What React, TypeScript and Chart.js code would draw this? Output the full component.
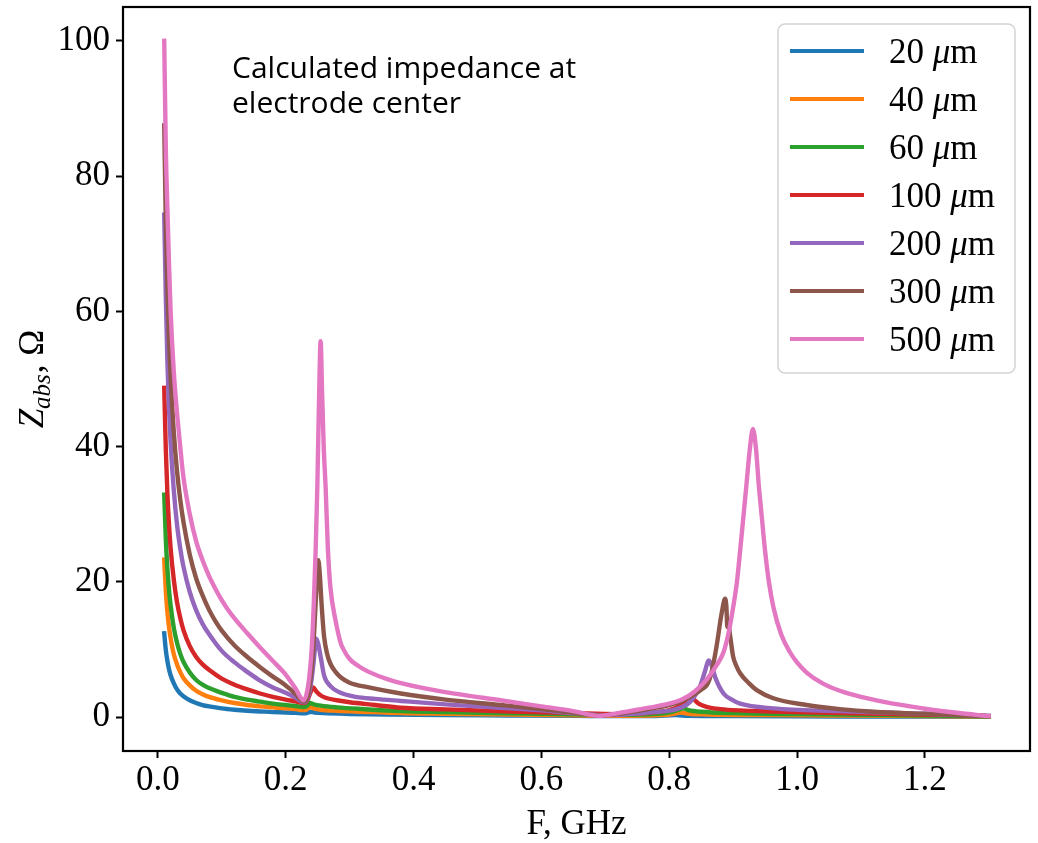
import React, { useEffect, useRef } from 'react';
import { Chart, registerables } from 'chart.js';

Chart.register(...registerables);

// Axis ticks
const xTicks = [0, 0.2, 0.4, 0.6, 0.8, 1.0, 1.2];
const yTicks = [0, 20, 40, 60, 80, 100];

// Legend labels (electrode sizes)
const sizeLabels = ['20', '40', '60', '100', '200', '300', '500'];
const seriesColors = ['#1f77b4', '#ff7f0e', '#2ca02c', '#d62728', '#9467bd', '#8c564b', '#e377c2'];

// [F (GHz), Zabs (Ohm)] pairs
const z20: [number, number][] = [
  [0.01, 12.4], [0.0125, 9.9], [0.015, 8.3], [0.0175, 7.1], [0.02, 6.2], [0.025, 5.0], [0.03, 4.1],
  [0.035, 3.5], [0.04, 3.1], [0.05, 2.5], [0.06, 2.1], [0.07, 1.8], [0.08, 1.6], [0.1, 1.3],
  [0.12, 1.1], [0.14, 0.95], [0.16, 0.85], [0.18, 0.75], [0.2, 0.7], [0.215, 0.65], [0.228, 0.58],
  [0.234, 0.65], [0.238, 0.8], [0.245, 0.7], [0.26, 0.6], [0.3, 0.48], [0.36, 0.38], [0.45, 0.3],
  [0.55, 0.25], [0.65, 0.2], [0.72, 0.15], [0.78, 0.18], [0.81, 0.3], [0.83, 0.2], [0.9, 0.15],
  [1.0, 0.12], [1.1, 0.1], [1.2, 0.08], [1.3, 0.05],
];

const z40: [number, number][] = [
  [0.01, 23.3], [0.0125, 18.6], [0.015, 15.5], [0.0175, 13.3], [0.02, 11.7], [0.025, 9.3], [0.03, 7.8],
  [0.035, 6.7], [0.04, 5.8], [0.05, 4.7], [0.06, 3.9], [0.07, 3.4], [0.08, 3.0], [0.1, 2.5],
  [0.12, 2.1], [0.14, 1.8], [0.16, 1.6], [0.18, 1.45], [0.2, 1.3], [0.215, 1.2], [0.228, 1.05],
  [0.233, 1.15], [0.238, 1.5], [0.244, 1.3], [0.255, 1.1], [0.28, 0.95], [0.32, 0.8], [0.38, 0.6],
  [0.45, 0.5], [0.55, 0.38], [0.65, 0.28], [0.72, 0.22], [0.78, 0.28], [0.805, 0.45], [0.817, 0.7],
  [0.83, 0.5], [0.86, 0.4], [0.95, 0.3], [1.05, 0.25], [1.15, 0.2], [1.3, 0.1],
];

const z60: [number, number][] = [
  [0.01, 32.9], [0.0125, 26.3], [0.015, 21.9], [0.0175, 18.8], [0.02, 16.5], [0.025, 13.2], [0.03, 11.0],
  [0.035, 9.4], [0.04, 8.2], [0.05, 6.6], [0.06, 5.5], [0.07, 4.8], [0.08, 4.3], [0.1, 3.6],
  [0.12, 3.0], [0.14, 2.6], [0.16, 2.3], [0.18, 2.0], [0.2, 1.8], [0.215, 1.65], [0.228, 1.5],
  [0.233, 1.65], [0.238, 2.1], [0.244, 1.9], [0.255, 1.7], [0.28, 1.45], [0.32, 1.2], [0.38, 0.9],
  [0.45, 0.75], [0.55, 0.58], [0.65, 0.42], [0.72, 0.35], [0.78, 0.5], [0.805, 0.8], [0.815, 1.1],
  [0.822, 1.3], [0.83, 1.05], [0.85, 0.8], [0.9, 0.6], [1.0, 0.45], [1.1, 0.35], [1.2, 0.25], [1.3, 0.1],
];

const z100: [number, number][] = [
  [0.01, 48.7], [0.0125, 39.5], [0.015, 33.0], [0.0175, 28.5], [0.02, 25.0], [0.025, 20.3], [0.03, 17.0],
  [0.035, 14.7], [0.04, 12.9], [0.05, 10.5], [0.06, 8.9], [0.07, 7.8], [0.08, 7.0], [0.1, 5.7],
  [0.12, 4.8], [0.14, 4.1], [0.16, 3.5], [0.18, 3.0], [0.2, 2.6], [0.215, 2.35], [0.228, 2.1],
  [0.234, 2.5], [0.239, 3.7], [0.243, 4.4], [0.248, 3.8], [0.255, 3.2], [0.265, 2.8], [0.28, 2.5],
  [0.3, 2.2], [0.34, 1.8], [0.38, 1.4], [0.45, 1.15], [0.55, 0.85], [0.65, 0.6], [0.72, 0.45],
  [0.77, 0.65], [0.8, 1.05], [0.815, 1.6], [0.825, 2.4], [0.833, 3.0], [0.839, 2.6], [0.846, 2.0],
  [0.86, 1.5], [0.88, 1.2], [0.91, 1.0], [0.96, 0.85], [1.067, 0.6], [1.15, 0.45], [1.25, 0.3], [1.3, 0.15],
];

const z200: [number, number][] = [
  [0.01, 74.3], [0.0125, 62], [0.015, 52.5], [0.0175, 45.5], [0.02, 40.5], [0.025, 33.5], [0.03, 28.5],
  [0.035, 25], [0.04, 22.3], [0.05, 18.5], [0.06, 15.8], [0.07, 13.8], [0.08, 12.3], [0.1, 9.8],
  [0.12, 8.1], [0.14, 6.7], [0.16, 5.4], [0.18, 4.4], [0.2, 3.6], [0.215, 2.9], [0.228, 2.2],
  [0.233, 2.5], [0.238, 4.0], [0.243, 7.5], [0.246, 10.3], [0.248, 11.6], [0.251, 10.8], [0.255, 8.8],
  [0.26, 6.2], [0.27, 4.6], [0.286, 3.6], [0.31, 3.0], [0.34, 2.7], [0.38, 2.4], [0.45, 1.9],
  [0.536, 1.4], [0.6, 1.0], [0.65, 0.6], [0.7, 0.3], [0.75, 0.55], [0.79, 0.85], [0.81, 1.15],
  [0.833, 2.3], [0.848, 4.5], [0.856, 6.8], [0.862, 8.4], [0.867, 7.5], [0.872, 5.9], [0.885, 3.5],
  [0.9, 2.5], [0.911, 2.0], [0.963, 1.3], [1.067, 0.9], [1.15, 0.65], [1.2, 0.5], [1.3, 0.2],
];

const z300: [number, number][] = [
  [0.01, 87.5], [0.0125, 73.2], [0.015, 63.4], [0.0175, 56], [0.02, 50.3], [0.025, 42.1], [0.03, 36.4],
  [0.035, 32.2], [0.04, 28.9], [0.05, 24.0], [0.06, 20.5], [0.07, 18.0], [0.08, 15.9], [0.09, 14.2],
  [0.1, 12.8], [0.12, 10.6], [0.14, 8.9], [0.16, 7.4], [0.18, 6.0], [0.2, 4.7], [0.215, 3.5], [0.228, 2.3],
  [0.233, 2.7], [0.238, 5.0], [0.243, 10.0], [0.247, 17.0], [0.251, 23.2], [0.2535, 21.0], [0.256, 17.0],
  [0.26, 12.0], [0.265, 9.3], [0.27, 7.9], [0.278, 6.7], [0.286, 5.9], [0.3, 5.1], [0.33, 4.4],
  [0.38, 3.5], [0.45, 2.6], [0.536, 1.8], [0.6, 1.2], [0.65, 0.7], [0.69, 0.25], [0.72, 0.5],
  [0.75, 0.9], [0.78, 1.4], [0.8, 1.8], [0.82, 2.4], [0.84, 3.4], [0.852, 4.2], [0.86, 4.9],
  [0.866, 6.5], [0.874, 10.4], [0.882, 15.3], [0.8875, 17.5], [0.8895, 16.3], [0.891, 13.3],
  [0.8925, 13.8], [0.895, 12.3], [0.9, 9.0], [0.905, 7.6], [0.911, 6.5], [0.925, 5.0], [0.937, 4.0],
  [0.963, 2.8], [1.015, 1.8], [1.067, 1.2], [1.12, 0.8], [1.2, 0.5], [1.3, 0.2],
];

const z500: [number, number][] = [
  [0.01, 100], [0.0125, 84], [0.015, 75], [0.0175, 67], [0.02, 60], [0.025, 51], [0.03, 45],
  [0.035, 40], [0.04, 35.5], [0.05, 30], [0.06, 26], [0.07, 23.2], [0.08, 20.9], [0.09, 19.0],
  [0.1, 17.3], [0.11, 15.85], [0.12, 14.6], [0.14, 12.4], [0.16, 10.3], [0.18, 8.3], [0.2, 6.3],
  [0.215, 4.3], [0.228, 2.5],
  [0.234, 4.0], [0.238, 6.9], [0.241, 10.5], [0.244, 16.8], [0.247, 25], [0.2495, 34], [0.252, 46],
  [0.2547, 55.6], [0.257, 48], [0.2595, 40], [0.2625, 34], [0.266, 25], [0.27, 19.2], [0.278, 14.3],
  [0.286, 11], [0.29, 10.1], [0.3, 8.6], [0.315, 7.5], [0.33, 6.7], [0.36, 5.6], [0.41, 4.4],
  [0.47, 3.4], [0.536, 2.5], [0.6, 1.6], [0.65, 0.9], [0.69, 0.2], [0.72, 0.6], [0.75, 1.1],
  [0.78, 1.6], [0.8, 2.0], [0.82, 2.6], [0.84, 3.8], [0.86, 5.7], [0.875, 7.8], [0.885, 9.6],
  [0.893, 12.5], [0.9, 16.2], [0.906, 20], [0.911, 24.6], [0.916, 29.5], [0.921, 34.5], [0.926, 39.5],
  [0.931, 42.6], [0.936, 39.5], [0.94, 34.5], [0.945, 29.5], [0.95, 24.6], [0.956, 20], [0.963, 16.3],
  [0.975, 12.3], [0.989, 9.6], [1.0, 8.1], [1.015, 6.6], [1.04, 5.0], [1.067, 3.9], [1.1, 3.0],
  [1.14, 2.2], [1.17, 1.7], [1.2, 1.25], [1.25, 0.65], [1.3, 0.15],
];

const allSeries = [z20, z40, z60, z100, z200, z300, z500];

const SERIF = '"Liberation Serif", "Times New Roman", serif';
const FS = 35;

export default function App() {
  const ref = useRef<HTMLCanvasElement>(null);

  useEffect(() => {
    document.body.style.margin = '0';
    const canvas = ref.current;
    if (!canvas) return;

    const decor = {
      id: 'decor',
      afterDraw(chart: any) {
        const { ctx, chartArea: a } = chart;
        ctx.save();
        // frame
        ctx.strokeStyle = '#000';
        ctx.lineWidth = 2.2;
        ctx.strokeRect(a.left, a.top, a.right - a.left, a.bottom - a.top);

        // annotation
        ctx.fillStyle = '#000';
        ctx.textAlign = 'left';
        ctx.textBaseline = 'alphabetic';
        ctx.font = '30px "Open Sans", "DejaVu Sans", sans-serif';
        ctx.fillText('Calculated impedance at', 232, 78);
        ctx.fillText('electrode center', 232, 113);

        // legend
        const lx = 778, ly = 24, lw = 237, lh = 349;
        ctx.beginPath();
        ctx.roundRect(lx, ly, lw, lh, 7);
        ctx.fillStyle = 'rgba(255,255,255,0.8)';
        ctx.fill();
        ctx.strokeStyle = '#d4d4d4';
        ctx.lineWidth = 1.5;
        ctx.stroke();
        for (let i = 0; i < sizeLabels.length; i++) {
          const ry = 51 + i * 48;
          ctx.strokeStyle = seriesColors[i];
          ctx.lineWidth = 4;
          ctx.lineCap = 'butt';
          ctx.beginPath();
          ctx.moveTo(790, ry);
          ctx.lineTo(864, ry);
          ctx.stroke();
          ctx.fillStyle = '#000';
          const base = ry + 12;
          let x = 889;
          ctx.font = `${FS}px ${SERIF}`;
          const num = sizeLabels[i] + ' ';
          ctx.fillText(num, x, base);
          x += ctx.measureText(num).width;
          ctx.font = `italic ${FS}px ${SERIF}`;
          ctx.fillText('\u03bc', x, base);
          x += ctx.measureText('\u03bc').width;
          ctx.font = `${FS}px ${SERIF}`;
          ctx.fillText('m', x, base);
        }

        // x title
        ctx.textAlign = 'center';
        ctx.fillStyle = '#000';
        ctx.font = `${FS}px ${SERIF}`;
        ctx.fillText('F, GHz', (a.left + a.right) / 2, 834);

        // y title: Z_abs, Ω
        ctx.save();
        ctx.translate(31, (a.top + a.bottom) / 2);
        ctx.rotate(-Math.PI / 2);
        ctx.textAlign = 'left';
        const fMain = `italic ${FS}px ${SERIF}`;
        const fSub = `italic ${Math.round(FS * 0.7)}px ${SERIF}`;
        const fRest = `${FS}px ${SERIF}`;
        ctx.font = fMain;
        const wZ = ctx.measureText('Z').width;
        ctx.font = fSub;
        const wS = ctx.measureText('abs').width;
        ctx.font = fRest;
        const wR = ctx.measureText(', \u03a9').width;
        const total = wZ + wS + wR + 1;
        let tx = -total / 2;
        const bl = 12;
        ctx.font = fMain;
        ctx.fillText('Z', tx, bl);
        tx += wZ;
        ctx.font = fSub;
        ctx.fillText('abs', tx, bl + 7);
        tx += wS + 1;
        ctx.font = fRest;
        ctx.fillText(', \u03a9', tx, bl);
        ctx.restore();

        ctx.restore();
      },
    };

    const chart = new Chart(canvas, {
      type: 'line',
      data: {
        datasets: allSeries.map((s, i) => ({
          label: sizeLabels[i] + ' \u03bcm',
          data: s.map(([x, y]) => ({ x, y })),
          borderColor: seriesColors[i],
          backgroundColor: seriesColors[i],
          borderWidth: 4.4,
          pointRadius: 0,
          fill: false,
          cubicInterpolationMode: 'monotone' as const,
          borderCapStyle: 'square' as const,
          borderJoinStyle: 'round' as const,
          order: allSeries.length - i,
        })),
      },
      options: {
        animation: false,
        responsive: false,
        devicePixelRatio: 1,
        layout: { padding: { left: 0, top: 7, right: 8, bottom: 0 } },
        plugins: {
          legend: { display: false },
          tooltip: { enabled: false },
          title: { display: false },
        },
        scales: {
          x: {
            type: 'linear',
            min: -0.0545,
            max: 1.3645,
            afterBuildTicks: (s: any) => {
              s.ticks = xTicks.map((v) => ({ value: v }));
            },
            afterFit: (s: any) => {
              s.height = 92;
              s.paddingLeft = 0;
              s.paddingRight = 0;
            },
            ticks: {
              callback: (v: any) => Number(v).toFixed(1),
              font: { family: SERIF, size: FS },
              color: '#000',
              padding: 2,
              maxRotation: 0,
              autoSkip: false,
            },
            grid: {
              drawOnChartArea: false,
              drawTicks: true,
              tickLength: 7,
              tickWidth: 2,
              tickColor: '#000',
            },
            border: { display: false },
          },
          y: {
            type: 'linear',
            min: -5,
            max: 105,
            afterBuildTicks: (s: any) => {
              s.ticks = yTicks.map((v) => ({ value: v }));
            },
            afterFit: (s: any) => {
              s.width = 123;
              s.paddingTop = 0;
              s.paddingBottom = 0;
            },
            ticks: {
              callback: (v: any) => String(v),
              font: { family: SERIF, size: FS },
              color: '#000',
              padding: 6,
              autoSkip: false,
            },
            grid: {
              drawOnChartArea: false,
              drawTicks: true,
              tickLength: 7,
              tickWidth: 2,
              tickColor: '#000',
            },
            border: { display: false },
          },
        },
      },
      plugins: [decor],
    });

    return () => chart.destroy();
  }, []);

  return <canvas ref={ref} width={1038} height={843} style={{ display: 'block' }} />;
}
